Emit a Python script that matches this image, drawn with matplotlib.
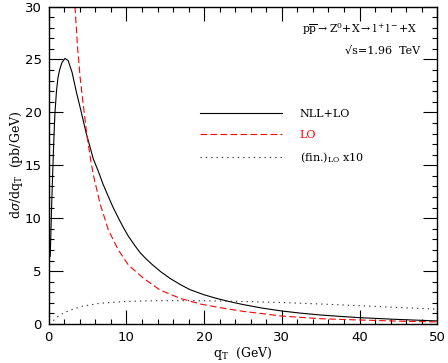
import matplotlib
matplotlib.use("Agg")
import matplotlib.pyplot as plt
from matplotlib.ticker import MultipleLocator

# Courbes (q_T en GeV, dsigma/dq_T en pb/GeV)
qt_nll = [0.2, 0.35, 0.5, 0.65, 0.8, 1.0, 1.2, 1.4, 1.7, 2.1, 2.5, 3.0, 3.6,
          4.2, 4.8, 5.74, 6.4, 7.0, 7.7, 8.3, 9.0, 9.6, 10.25, 11.0, 11.75,
          12.5, 13.3, 14.4, 15.6, 16.9, 18.2, 20.0, 21.6, 23.3, 25.0, 27.5,
          30.0, 32.5, 35.0, 37.5, 40.0, 45.0, 50.0]
sig_nll = [6.4, 10.5, 14.0, 17.2, 19.9, 22.0, 23.3, 24.0, 24.7, 25.1, 24.9,
           23.8, 21.8, 20.0, 18.1, 15.6, 14.4, 13.2, 12.0, 11.0, 9.97, 9.13,
           8.3, 7.5, 6.75, 6.18, 5.63, 4.95, 4.32, 3.74, 3.24, 2.76, 2.42,
           2.11, 1.84, 1.5, 1.23, 1.02, 0.85, 0.72, 0.6, 0.43, 0.29]

qt_lo = [3.38, 3.7, 4.03, 4.37, 4.89, 5.4, 5.74, 6.6, 7.67, 8.96, 10.25,
         12.2, 14.3, 16.9, 19.5, 22.0, 25.0, 30.0, 35.0, 40.0, 45.0, 50.0]
sig_lo = [30.0, 26.3, 23.4, 21.2, 18.0, 15.5, 14.1, 11.4, 8.9, 7.0, 5.58,
          4.32, 3.22, 2.43, 1.89, 1.55, 1.2, 0.75, 0.5, 0.38, 0.27, 0.2]

qt_fin = [0.6, 1.0, 1.5, 2.3, 3.3, 4.45, 6.6, 9.6, 12.0, 15.0, 18.0, 20.0,
          25.0, 30.0, 35.0, 40.0, 45.0, 50.0]
sig_fin = [0.32, 0.6, 0.88, 1.17, 1.45, 1.70, 1.96, 2.12, 2.18, 2.21, 2.21,
           2.2, 2.13, 2.03, 1.89, 1.73, 1.56, 1.4]

plt.rcParams["mathtext.fontset"] = "custom"
plt.rcParams["mathtext.rm"] = "DejaVu Serif"
plt.rcParams["mathtext.it"] = "DejaVu Serif:italic"

SERIF = "DejaVu Serif"

fig = plt.figure(figsize=(4.48, 3.63), dpi=100)
ax = fig.add_axes([0.1087, 0.1074, 0.8674, 0.8746])

ax.plot(qt_nll, sig_nll, color="black", lw=0.8, label="NLL+LO")
ax.plot(qt_lo, sig_lo, color="red", lw=0.8, linestyle=(0, (6, 3)), label="LO")
ax.plot(qt_fin, sig_fin, color="#333333", lw=0.8, linestyle=(0, (1.2, 3.6)),
        label=r"(fin.)$_{\rm LO}$ x10")

ax.set_xlim(0, 50)
ax.set_ylim(0, 30)

# Graduations intérieures sur les quatre côtés
ax.xaxis.set_major_locator(MultipleLocator(10))
ax.xaxis.set_minor_locator(MultipleLocator(2))
ax.yaxis.set_major_locator(MultipleLocator(5))
ax.yaxis.set_minor_locator(MultipleLocator(1))
ax.tick_params(which="both", direction="in", top=True, right=True,
               width=0.8, labelsize=9.5)
ax.tick_params(which="major", length=10, pad=5)
ax.tick_params(which="minor", length=3.6)
for sp in ax.spines.values():
    sp.set_linewidth(1.0)

ax.set_xlabel(r"q$_{\rm T}$  (GeV)", fontsize=9, family=SERIF, labelpad=1)
ax.set_ylabel(r"d$\sigma$/dq$_{\rm T}$  (pb/GeV)", fontsize=9, family=SERIF,
              labelpad=0)

# Légende sans cadre, texte LO en rouge
leg = ax.legend(loc="upper left", bbox_to_anchor=(0.389, 0.677), frameon=False,
                prop={"family": SERIF, "size": 8}, handlelength=7.4,
                handletextpad=1.6, labelspacing=0.95, borderpad=0,
                borderaxespad=0)
leg.get_texts()[1].set_color("red")

ax.text(0.652, 0.93,
        r"p$\overline{\rm p}$$\rightarrow$Z$^{\rm 0}$+X$\rightarrow$l$^+$l$^-$+X",
        transform=ax.transAxes, ha="left", va="center", fontsize=7.8,
        family=SERIF)
ax.text(0.955, 0.862, "√s=1.96  TeV", transform=ax.transAxes, ha="right",
        va="center", fontsize=8, family=SERIF)

fig.savefig("out.png", dpi=100)
